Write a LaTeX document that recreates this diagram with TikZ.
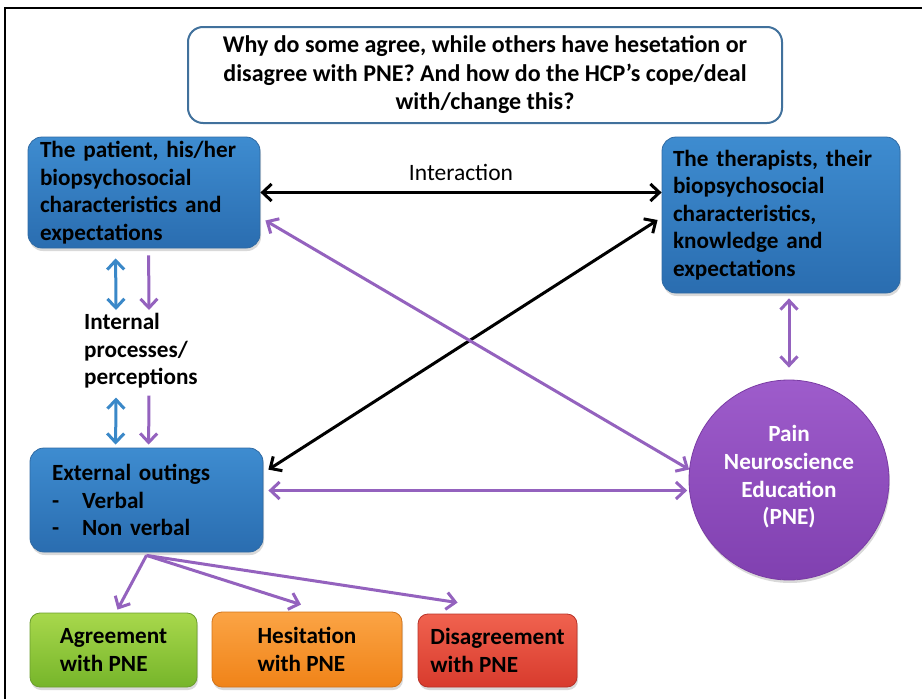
\documentclass[tikz,border=0pt]{standalone}
\usepackage{fontspec}
\setmainfont{Carlito}
\usetikzlibrary{arrows.meta,shadows,calc}
\definecolor{qborder}{HTML}{41719C}
\definecolor{bluetop}{HTML}{3E8CD0}
\definecolor{bluebot}{HTML}{2A6DB0}
\definecolor{blueedge}{HTML}{2F6AA3}
\definecolor{greentop}{HTML}{A8D84C}
\definecolor{greenbot}{HTML}{76B52A}
\definecolor{greenedge}{HTML}{6C9E2E}
\definecolor{orangetop}{HTML}{FBA445}
\definecolor{orangebot}{HTML}{F08318}
\definecolor{orangeedge}{HTML}{D2741A}
\definecolor{redtop}{HTML}{F0624F}
\definecolor{redbot}{HTML}{D83B2D}
\definecolor{rededge}{HTML}{B83228}
\definecolor{pnetop}{HTML}{9E5CCB}
\definecolor{pnebot}{HTML}{8040B0}
\definecolor{pneedge}{HTML}{7A3CA4}
\definecolor{arrpurple}{HTML}{9462BE}
\definecolor{arrblue}{HTML}{3A88C8}
\begin{document}
\begin{tikzpicture}[x=1pt,y=-1pt,
  boxfont/.style={font=\bfseries\fontsize{23.2}{27.6}\selectfont},
  shadowed/.style={drop shadow={shadow xshift=1pt,shadow yshift=-3pt,opacity=0.3}},
  bluebox/.style={boxfont,rounded corners=14,draw=blueedge,line width=0.8,
    top color=bluetop,bottom color=bluebot,shadowed,align=left,inner sep=0,text=black},
  resultbox/.style={boxfont,rounded corners=10,line width=0.8,shadowed,align=left,inner sep=0,text=black},
  barbtip/.tip={Straight Barb[length=9,width=17,line width=3]},
  link/.style={line width=3,arrows={barbtip-barbtip}},
  onelink/.style={line width=3,arrows={-barbtip}}
]
\useasboundingbox (0,0) rectangle (922,699);

% outer frame
\draw[line width=2] (5,699) -- (5,8) -- (922,8);

% question
\node[draw=qborder,line width=2,rounded corners=15,fill=white,
      minimum width=594,minimum height=96,align=center,
      font=\bfseries\fontsize{24}{28.5}\selectfont] (q) at (485,75)
  {Why do some agree, while others have hesetation or\\
   disagree with PNE? And how do the HCP’s cope/deal\\
   with/change this?};

% main boxes
\node[bluebox,minimum width=232,minimum height=111,text width=208] (pat) at (144,192.5)
  {The patient, his/her\\biopsychosocial\\characteristics and\\expectations};
\node[bluebox,minimum width=238,minimum height=156,text width=216] (ther) at (781,215)
  {The therapists, their\\biopsychosocial\\characteristics,\\knowledge and\\expectations};
\node[bluebox,minimum width=233,minimum height=104,text width=189] (ext) at (146.5,500)
  {External outings\\-\hspace{23pt}Verbal\\-\hspace{23pt}Non verbal};

% internal processes
\node[boxfont,align=left,inner sep=0,anchor=north west] (int) at (84,313)
  {Internal\\processes/\\perceptions};

% pain neuroscience education
\node[circle,minimum size=200,draw=pneedge,line width=0.8,top color=pnetop,bottom color=pnebot,
      shadowed] (pne) at (789,480) {};
\node[text=white,align=center,boxfont,inner sep=0] (pnetext) at ($(pne.center)+(0,-3)$)
  {Pain\\Neuroscience\\Education\\(PNE)};

% outcomes
\node[resultbox,draw=greenedge,top color=greentop,bottom color=greenbot,
      minimum width=167,minimum height=74] (agr) at (113.5,650) {Agreement\\with PNE};
\node[resultbox,draw=orangeedge,top color=orangetop,bottom color=orangebot,
      minimum width=190,minimum height=75] (hes) at (307,649.5) {Hesitation\\with PNE};
\node[resultbox,draw=rededge,top color=redtop,bottom color=redbot,
      minimum width=159,minimum height=73] (dis) at (497.5,650.5) {Disagreement\\with PNE};

% interaction arrows
\draw[link,black] (pat.east) -- node[above=7pt,font=\fontsize{23.5}{26}\selectfont] (inter) {Interaction} (pat.east -| ther.west);
\draw[link,black] ($(ext.north east)+(5,22)$) -- ($(ther.west)+(-4,5)$);
\draw[link,arrpurple] ($(pat.east)+(5,28)$) -- (pne.174);
\draw[link,arrpurple] ($(pne.186)+(-2,0)$) -- ($(pne.186 -| ext.east)+(5,0)$);
\draw[link,arrpurple] ($(pne.north)+(0,-12)$) -- ($(pne.north |- ther.south)+(0,5)$);

% patient side: internal processes
\draw[link,arrblue] ($(pat.south west)+(88,10)$) -- ($(int.north west)+(32,-3)$);
\draw[onelink,arrpurple] ($(pat.south west)+(121,7)$) -- ($(int.north west)+(65,-3)$);
\draw[link,arrblue] ($(int.south west)+(32,9)$) -- ($(ext.north west)+(86,-3)$);
\draw[onelink,arrpurple] ($(int.south west)+(65,7)$) -- ($(ext.north west)+(119,-3)$);

% outcomes
\draw[onelink,arrpurple] ($(ext.south)+(0,3)$) -- ($(agr.north)+(4,-3)$);
\draw[onelink,arrpurple] ($(ext.south)+(0,3)$) -- ($(hes.north)+(-6,-7)$);
\draw[onelink,arrpurple] ($(ext.south)+(0,3)$) -- ($(dis.north west)+(40,-11)$);
\end{tikzpicture}
\end{document}
